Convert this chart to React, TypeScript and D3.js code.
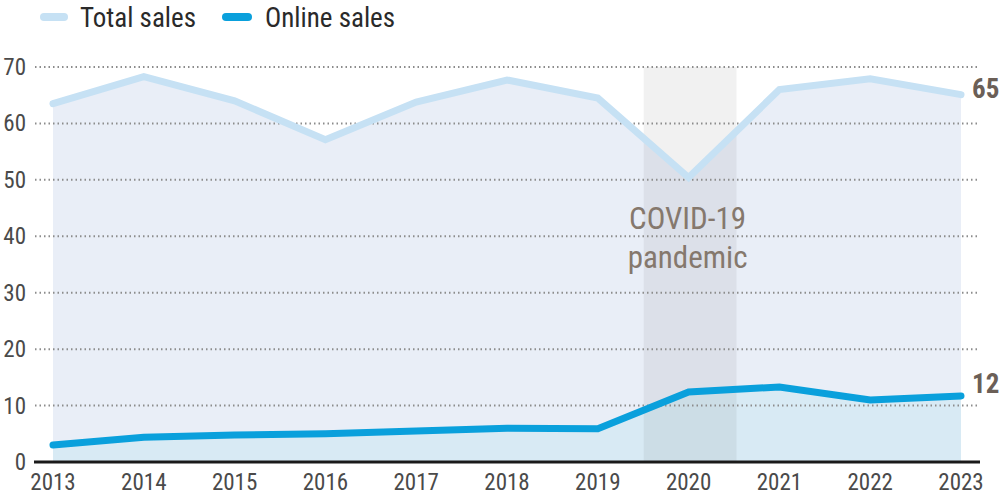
import React from "react";
import * as d3 from "d3";

const years = [2013, 2014, 2015, 2016, 2017, 2018, 2019, 2020, 2021, 2022, 2023];
const totalSales = [63.5, 68.3, 64.0, 57.1, 63.8, 67.7, 64.5, 50.4, 66.0, 67.9, 65.1];
const onlineSales = [3.0, 4.4, 4.8, 5.0, 5.5, 6.0, 5.9, 12.4, 13.3, 11.0, 11.7];
const yTicks = [0, 10, 20, 30, 40, 50, 60, 70];
const seriesNames = ["Total sales", "Online sales"];
const covidYear = 2020;
const covidLabel = ["COVID-19", "pandemic"];
const endLabels = ["65", "12"];

const W = 1007;
const H = 496;
const FONT = "'Liberation Sans Narrow', 'Roboto Condensed', 'Arial Narrow', Roboto, sans-serif";

export default function App() {
  const x = d3.scaleLinear().domain([2013, 2023]).range([53, 961]);
  const y = d3.scaleLinear().domain([0, 70]).range([462, 67]);
  const step = x(2014) - x(2013);

  const totalPts = years.map((yr, i) => [yr, totalSales[i]] as [number, number]);
  const onlinePts = years.map((yr, i) => [yr, onlineSales[i]] as [number, number]);

  const line = d3.line<[number, number]>().x((d) => x(d[0])).y((d) => y(d[1]));
  const area = d3
    .area<[number, number]>()
    .x((d) => x(d[0]))
    .y0(y(0))
    .y1((d) => y(d[1]));

  const gridX0 = 35;
  const gridX1 = 979;

  return (
    <svg width={W} height={H} style={{ position: "absolute", left: 0, top: 0, fontFamily: FONT }}>
      {/* legend */}
      <line x1={44} y1={17} x2={64} y2={17} stroke="#c6e1f4" strokeWidth={8} strokeLinecap="round" />
      <text x={80} y={27} fontSize={27} fill="#2a2a2a">{seriesNames[0]}</text>
      <line x1={226} y1={17} x2={248} y2={17} stroke="#0aa0dc" strokeWidth={8} strokeLinecap="round" />
      <text x={265} y={27} fontSize={27} fill="#2a2a2a">{seriesNames[1]}</text>

      {/* areas */}
      <path d={area(totalPts) || ""} fill="#e9eef7" />
      <path d={area(onlinePts) || ""} fill="#d8eaf4" />

      {/* covid band */}
      <rect
        x={x(covidYear) - step / 2 + 0.5}
        y={y(70)}
        width={step + 2}
        height={y(0) - y(70)}
        fill="#000"
        fillOpacity={0.053}
      />

      {/* grid */}
      {yTicks.filter((t) => t > 0).map((t) => (
        <line
          key={t}
          x1={gridX0}
          x2={gridX1}
          y1={y(t)}
          y2={y(t)}
          stroke="#8c8c8c"
          strokeWidth={2}
          strokeDasharray="1.5 3"
        />
      ))}
      {yTicks.map((t) => (
        <text key={t} x={26} y={y(t) + 8} fontSize={23} fill="#4a4a4a" textAnchor="end">
          {t}
        </text>
      ))}

      {/* axis */}
      <line x1={34} x2={980} y1={y(0)} y2={y(0)} stroke="#1a1a1a" strokeWidth={3} />
      {years.map((yr) => (
        <text key={yr} x={x(yr)} y={490} fontSize={23} fill="#4a4a4a" textAnchor="middle">
          {yr}
        </text>
      ))}

      {/* covid label */}
      <text x={x(covidYear) - 1} y={229} fontSize={31} fill="#85786d" textAnchor="middle">
        {covidLabel[0]}
      </text>
      <text x={x(covidYear) - 1} y={268} fontSize={31} fill="#85786d" textAnchor="middle">
        {covidLabel[1]}
      </text>

      {/* lines */}
      <path d={line(totalPts) || ""} fill="none" stroke="#c6e1f4" strokeWidth={7} strokeLinecap="round" strokeLinejoin="miter" />
      <path d={line(onlinePts) || ""} fill="none" stroke="#0aa0dc" strokeWidth={7} strokeLinecap="round" strokeLinejoin="miter" />

      {/* end labels */}
      <text x={972} y={y(totalSales[10]) + 3} fontSize={27} fontWeight="bold" fill="#6b5f57">
        {endLabels[0]}
      </text>
      <text x={972} y={y(onlineSales[10]) - 3} fontSize={27} fontWeight="bold" fill="#6b5f57">
        {endLabels[1]}
      </text>
    </svg>
  );
}
